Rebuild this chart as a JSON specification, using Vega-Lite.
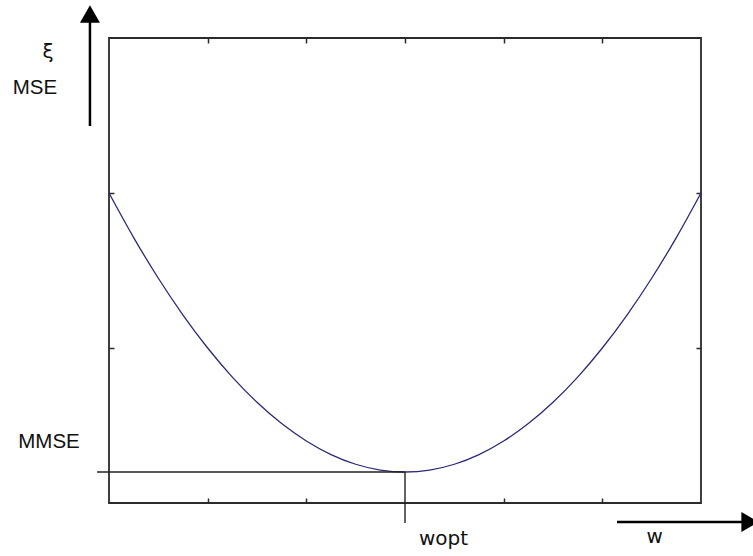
{
  "$schema": "https://vega.github.io/schema/vega-lite/v6.json",
  "width": 592,
  "height": 465,
  "autosize": {"type": "none"},
  "padding": {"left": 109, "top": 38, "right": 52, "bottom": 53},
  "background": "white",
  "config": {
    "view": {"stroke": "#2b2b2b", "strokeWidth": 1.8},
    "axis": {"domain": false, "grid": false, "labels": false, "title": null, "ticks": true, "tickColor": "#2b2b2b", "tickWidth": 1.5, "tickSize": -5}
  },
  "resolve": {"axis": {"x": "independent", "y": "independent"}},
  "layer": [
    {
      "data": {"values": [
        {"w": 0, "mse": 2.0}, {"w": 0.25, "mse": 1.7125}, {"w": 0.5, "mse": 1.45}, {"w": 0.75, "mse": 1.2125},
        {"w": 1, "mse": 1.0}, {"w": 1.25, "mse": 0.8125}, {"w": 1.5, "mse": 0.65}, {"w": 1.75, "mse": 0.5125},
        {"w": 2, "mse": 0.4}, {"w": 2.25, "mse": 0.3125}, {"w": 2.5, "mse": 0.25}, {"w": 2.75, "mse": 0.2125},
        {"w": 3, "mse": 0.2}, {"w": 3.25, "mse": 0.2125}, {"w": 3.5, "mse": 0.25}, {"w": 3.75, "mse": 0.3125},
        {"w": 4, "mse": 0.4}, {"w": 4.25, "mse": 0.5125}, {"w": 4.5, "mse": 0.65}, {"w": 4.75, "mse": 0.8125},
        {"w": 5, "mse": 1.0}, {"w": 5.25, "mse": 1.2125}, {"w": 5.5, "mse": 1.45}, {"w": 5.75, "mse": 1.7125},
        {"w": 6, "mse": 2.0}
      ]},
      "mark": {"type": "line", "color": "#2a2a7a", "strokeWidth": 1.3, "interpolate": "monotone"},
      "encoding": {
        "x": {"field": "w", "type": "quantitative", "scale": {"domain": [0, 6], "nice": false, "zero": false}, "axis": {"orient": "bottom", "values": [1, 2, 4, 5]}},
        "y": {"field": "mse", "type": "quantitative", "scale": {"domain": [0, 3], "nice": false, "zero": false}, "axis": {"orient": "left", "values": [1, 2]}}
      }
    },
    {
      "data": {"values": [{"x1": -0.122, "x2": 3, "y": 0.2}]},
      "mark": {"type": "rule", "color": "#222222", "strokeWidth": 1.4, "clip": false},
      "encoding": {
        "x": {"field": "x1", "type": "quantitative", "scale": {"domain": [0, 6], "nice": false, "zero": false}, "axis": {"orient": "top", "values": [1, 2, 3, 4, 5]}},
        "x2": {"field": "x2"},
        "y": {"field": "y", "type": "quantitative", "scale": {"domain": [0, 3], "nice": false, "zero": false}, "axis": {"orient": "right", "values": [1, 2]}}
      }
    },
    {
      "data": {"values": [{"x": 3, "y1": 0.2, "y2": -0.129}]},
      "mark": {"type": "rule", "color": "#222222", "strokeWidth": 1.4, "clip": false},
      "encoding": {
        "x": {"field": "x", "type": "quantitative", "scale": {"domain": [0, 6], "nice": false, "zero": false}, "axis": null},
        "y": {"field": "y1", "type": "quantitative", "scale": {"domain": [0, 3], "nice": false, "zero": false}, "axis": null},
        "y2": {"field": "y2"}
      }
    },
    {
      "data": {"values": [{"x": -0.193, "y1": 2.432, "y2": 3.11}]},
      "mark": {"type": "rule", "color": "#000000", "strokeWidth": 2.5, "clip": false},
      "encoding": {
        "x": {"field": "x", "type": "quantitative", "scale": {"domain": [0, 6], "nice": false, "zero": false}, "axis": null},
        "y": {"field": "y1", "type": "quantitative", "scale": {"domain": [0, 3], "nice": false, "zero": false}, "axis": null},
        "y2": {"field": "y2"}
      }
    },
    {
      "data": {"values": [{"x1": 5.149, "x2": 6.44, "y": -0.1226}]},
      "mark": {"type": "rule", "color": "#000000", "strokeWidth": 2.5, "clip": false},
      "encoding": {
        "x": {"field": "x1", "type": "quantitative", "scale": {"domain": [0, 6], "nice": false, "zero": false}, "axis": null},
        "x2": {"field": "x2"},
        "y": {"field": "y", "type": "quantitative", "scale": {"domain": [0, 3], "nice": false, "zero": false}, "axis": null}
      }
    },
    {
      "data": {"values": [{"x": -0.193, "y": 3.155}]},
      "mark": {"type": "point", "shape": "triangle-up", "filled": true, "color": "#000000", "opacity": 1, "size": 400, "clip": false},
      "encoding": {
        "x": {"field": "x", "type": "quantitative", "scale": {"domain": [0, 6], "nice": false, "zero": false}, "axis": null},
        "y": {"field": "y", "type": "quantitative", "scale": {"domain": [0, 3], "nice": false, "zero": false}, "axis": null}
      }
    },
    {
      "data": {"values": [{"x": 6.497, "y": -0.1226}]},
      "mark": {"type": "point", "shape": "triangle-right", "filled": true, "color": "#000000", "opacity": 1, "size": 400, "clip": false},
      "encoding": {
        "x": {"field": "x", "type": "quantitative", "scale": {"domain": [0, 6], "nice": false, "zero": false}, "axis": null},
        "y": {"field": "y", "type": "quantitative", "scale": {"domain": [0, 3], "nice": false, "zero": false}, "axis": null}
      }
    },
    {
      "data": {"values": [
        {"label": "MSE", "x": -0.75, "y": 2.639},
        {"label": "MMSE", "x": -0.608, "y": 0.355}
      ]},
      "mark": {"type": "text", "font": "Liberation Sans", "fontSize": 20.5, "color": "#111111", "align": "center", "baseline": "alphabetic", "clip": false},
      "encoding": {
        "x": {"field": "x", "type": "quantitative", "scale": {"domain": [0, 6], "nice": false, "zero": false}, "axis": null},
        "y": {"field": "y", "type": "quantitative", "scale": {"domain": [0, 3], "nice": false, "zero": false}, "axis": null},
        "text": {"field": "label"}
      }
    },
    {
      "data": {"values": [
        {"label": "ξ", "x": -0.618, "y": 2.91}
      ]},
      "mark": {"type": "text", "font": "DejaVu Sans", "fontSize": 20, "color": "#111111", "align": "center", "baseline": "middle", "clip": false},
      "encoding": {
        "x": {"field": "x", "type": "quantitative", "scale": {"domain": [0, 6], "nice": false, "zero": false}, "axis": null},
        "y": {"field": "y", "type": "quantitative", "scale": {"domain": [0, 3], "nice": false, "zero": false}, "axis": null},
        "text": {"field": "label"}
      }
    },
    {
      "data": {"values": [
        {"label": "wopt", "x": 3.39, "y": -0.271},
        {"label": "w", "x": 5.53, "y": -0.258}
      ]},
      "mark": {"type": "text", "font": "DejaVu Sans", "fontSize": 20, "color": "#111111", "align": "center", "baseline": "alphabetic", "clip": false},
      "encoding": {
        "x": {"field": "x", "type": "quantitative", "scale": {"domain": [0, 6], "nice": false, "zero": false}, "axis": null},
        "y": {"field": "y", "type": "quantitative", "scale": {"domain": [0, 3], "nice": false, "zero": false}, "axis": null},
        "text": {"field": "label"}
      }
    }
  ]
}
